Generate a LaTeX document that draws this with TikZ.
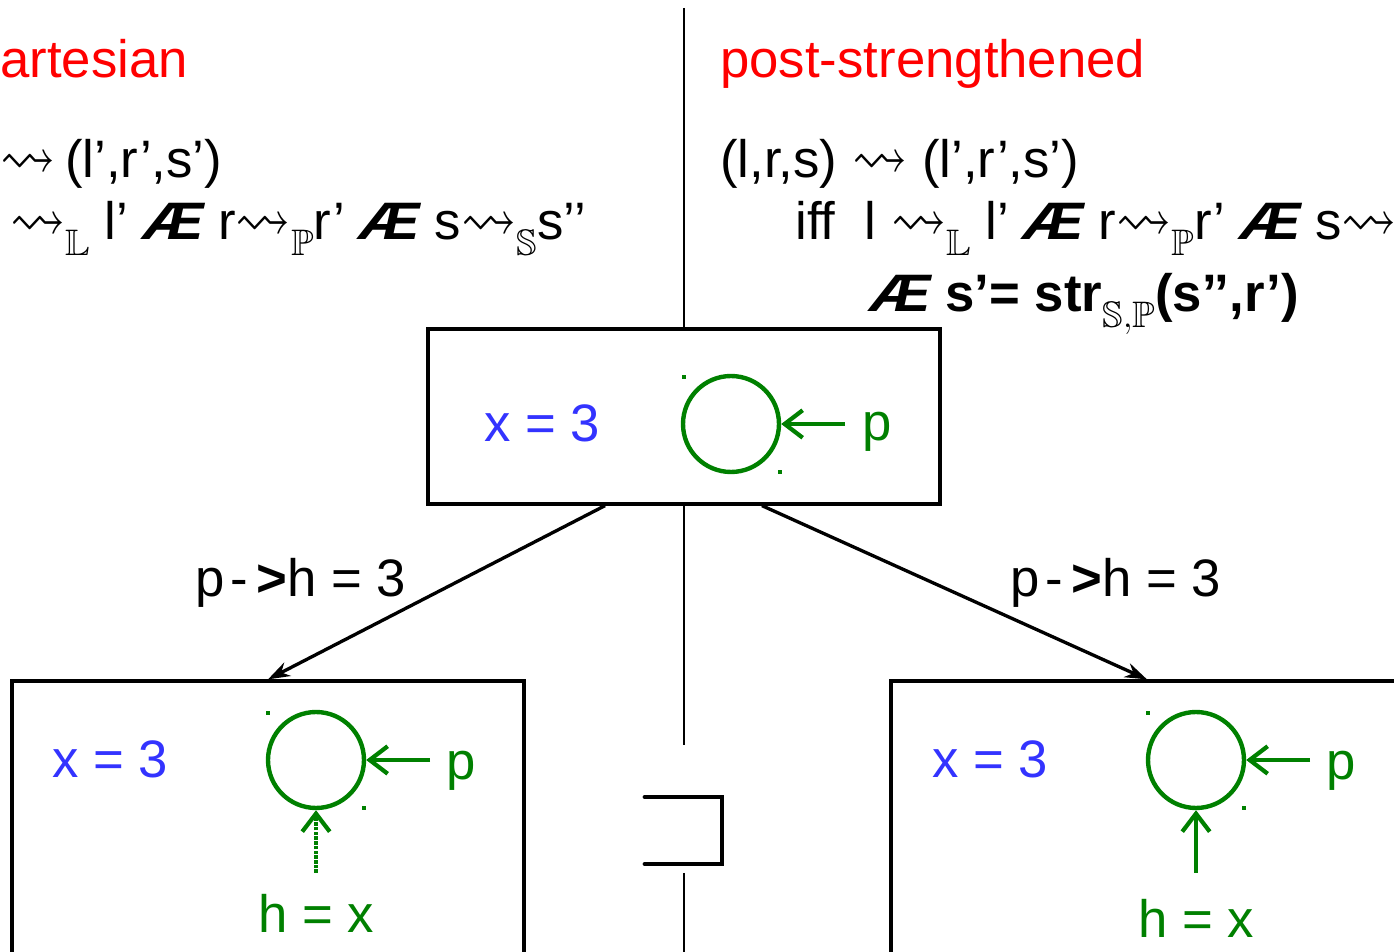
\documentclass[tikz,border=0pt]{standalone}
\usepackage{amssymb}
\usepackage{graphicx}
\usepackage{fontspec}
\setmainfont{Liberation Sans}
\usetikzlibrary{arrows.meta}
\definecolor{tred}{RGB}{255,0,0}
\definecolor{tblue}{RGB}{51,51,255}
\definecolor{tgreen}{RGB}{0,128,0}
\newcommand{\andsym}{\scalebox{1.15}[1]{\bfseries\itshape Æ}}
\newcommand{\sqarr}{\scalebox{1.05}[1.25]{$\rightsquigarrow$}}
\newcommand{\sqa}[1]{\sqarr\raisebox{-0.3em}{$\scriptstyle\mathbb{#1}$}}
\begin{document}
\begin{tikzpicture}[x=0.02cm,y=-0.02cm,
  every node/.style={font=\fontsize{30}{36}\selectfont, inner sep=0pt},
  statebox/.style={draw, line width=1.9pt, minimum width=10.24cm},
  circ/.style={circle, draw=tgreen, line width=2.5pt, minimum size=1.92cm},
  garrow/.style={draw=tgreen, line width=2.4pt, -{Straight Barb[length=0.36cm,width=0.55cm]}},
  dotmark/.style={fill=tgreen, minimum size=0.09cm, inner sep=0pt},
  earrow/.style={line width=1.9pt, -{Stealth[length=0.44cm,width=0.3cm]}},
  vline/.style={line width=1.1pt},
  sqbracket/.style={line width=2.8pt, line cap=round}]
\useasboundingbox (0,0) rectangle (1394,952);

% titles and formulas
\node[anchor=base west, text=tred] (t1) at (0,78) {artesian};
\node[anchor=base west, text=tred] (t2) at (720,78) {post-strengthened};
\node[anchor=base west] (l1) at (0,178) {\sqarr\hspace{-0.1em} (l’,r’,s’)};
\node[anchor=base west] (r1) at (720,178) {(l,r,s) \sqarr\ (l’,r’,s’)};
\node[anchor=base west] (l2) at (10,240) {\sqa{L} l’ \andsym{} r\sqa{P}r’ \andsym{} s\sqa{S}s’’};
\node[anchor=base west] (r2) at (795,240) {iff\ \ l \sqa{L} l’ \andsym{} r\sqa{P}r’ \andsym{} s\sqa{S}};
\node[anchor=base west] (r3) at (870,312) {\andsym{} \textbf{s’= str}\raisebox{-0.3em}{$\scriptstyle\mathbb{S},\mathbb{P}$}\textbf{(s’’,r’)}};

% boxes
\node[statebox, minimum height=3.5cm] (top) at (684,416.5) {};
\node[statebox, minimum height=7.6cm] (bl) at (268,871) {};
\node[statebox, minimum height=7.6cm] (br) at (1147,871) {};

% vertical separator
\coordinate (v0) at (684,8);
\coordinate (v1) at (684,745);
\coordinate (v2) at (684,873);
\coordinate (v3) at (684,970);
\draw[vline] (v0) -- (top.north);
\draw[vline] (top.south) -- (v1);
\draw[vline] (v2) -- (v3);

% bracket
\coordinate (b1) at (645,797);
\coordinate (b2) at (722,797);
\coordinate (b3) at (722,864);
\coordinate (b4) at (645,864);
\draw[sqbracket] (b1) -- (b2) -- (b3) -- (b4);

% transitions
\draw[earrow] ([xshift=-1.58cm]top.south) -- (bl.north);
\draw[earrow] ([xshift=1.56cm]top.south) -- (br.north);
\node[anchor=base west] (lab1) at (195,597) {p\hspace{0.12em}-\hspace{0.15em}{\bfseries >}h = 3};
\node[anchor=base west] (lab2) at (1010,597) {p\hspace{0.12em}-\hspace{0.15em}{\bfseries >}h = 3};

% top box content
\node[anchor=base, text=tblue] (x1) at (542,442) {x = 3};
\node[circ] (c1) at (731,424) {};
\node[dotmark] (d11) at (684,377) {};
\node[dotmark] (d12) at (780,472) {};
\node[anchor=base, text=tgreen] (p1) at (877,441) {p};
\coordinate (pt1) at (845,424);
\draw[garrow] (pt1) -- (c1.east);

% bottom-left box content
\node[anchor=base, text=tblue] (x2) at (110,778) {x = 3};
\node[circ] (c2) at (316,760) {};
\node[dotmark] (d21) at (268,713) {};
\node[dotmark] (d22) at (364,808) {};
\node[anchor=base, text=tgreen] (p2) at (461,780) {p};
\coordinate (pt2) at (430,760);
\draw[garrow] (pt2) -- (c2.east);
\node[anchor=base, text=tgreen] (h2) at (316,932) {h = x};
\coordinate (ht2) at (316,873);
\draw[garrow, dash pattern=on 2pt off 0.7pt] (ht2) -- (c2.south);

% bottom-right box content
\node[anchor=base, text=tblue] (x3) at (990,778) {x = 3};
\node[circ] (c3) at (1196,760) {};
\node[dotmark] (d31) at (1148,713) {};
\node[dotmark] (d32) at (1244,808) {};
\node[anchor=base, text=tgreen] (p3) at (1341,780) {p};
\coordinate (pt3) at (1310,760);
\draw[garrow] (pt3) -- (c3.east);
\node[anchor=base, text=tgreen] (h3) at (1196,937) {h = x};
\coordinate (ht3) at (1196,873);
\draw[garrow] (ht3) -- (c3.south);
\end{tikzpicture}
\end{document}
